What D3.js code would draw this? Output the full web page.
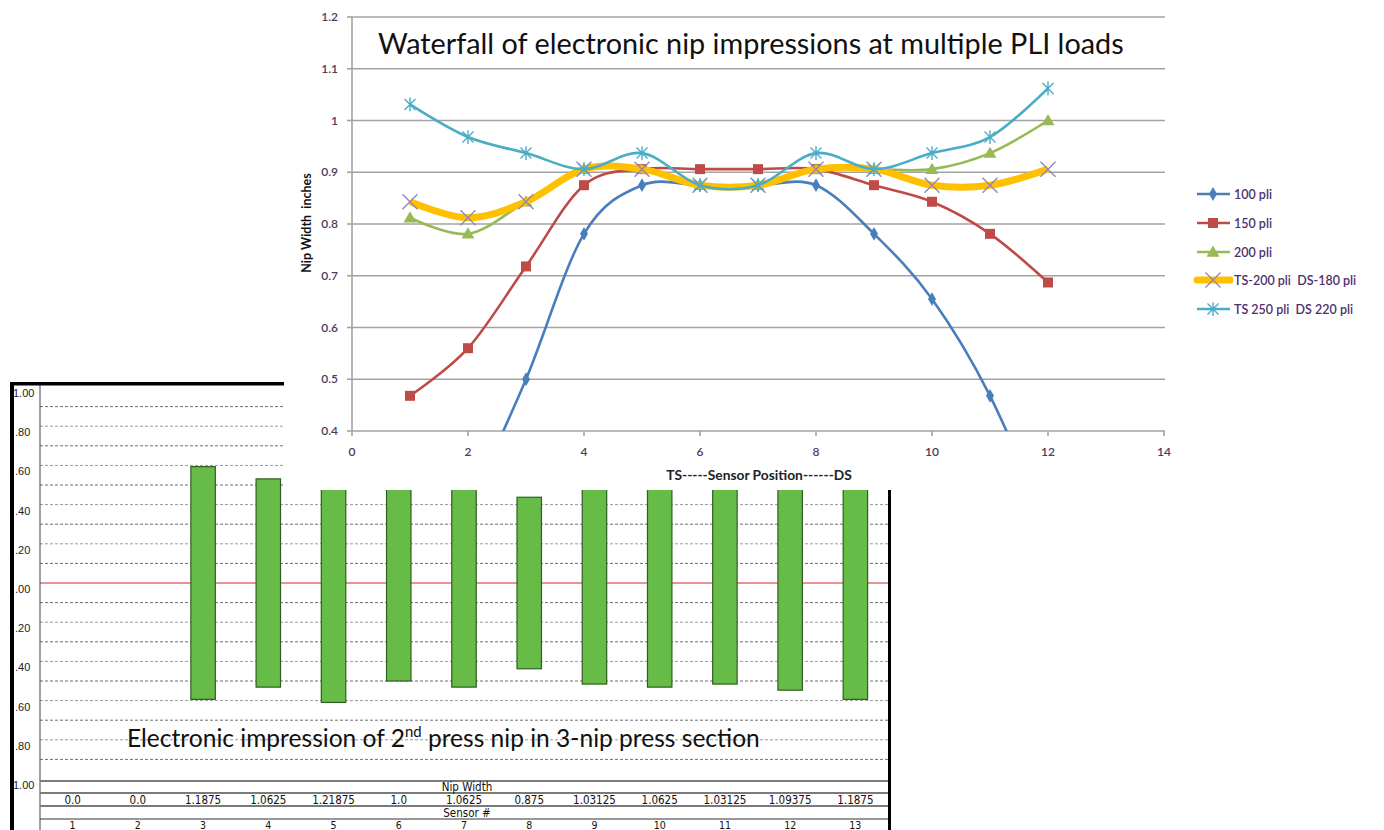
<!DOCTYPE html>
<html><head><meta charset="utf-8">
<script src="https://cdn.jsdelivr.net/npm/d3@7"></script>
<style>
html,body{margin:0;padding:0;background:#fff;}
svg{display:block;}
</style></head>
<body>
<svg id="chart" width="1384" height="830"></svg>
<script>
// ---------- DATA ----------
// Top chart: waterfall of electronic nip impressions
const sensorPositions = [1,2,3,4,5,6,7,8,9,10,11,12];
const pli100 = [0.0, 0.25, 0.5, 0.781, 0.875, 0.875, 0.875, 0.875, 0.781, 0.655, 0.468, 0.21];
const pli150 = [0.468, 0.56, 0.718, 0.875, 0.906, 0.906, 0.906, 0.906, 0.875, 0.843, 0.781, 0.687];
const pli200 = [0.812, 0.781, 0.843, 0.906, 0.906, 0.875, 0.875, 0.906, 0.906, 0.906, 0.937, 1.0];
const ts200ds180 = [0.843, 0.812, 0.843, 0.906, 0.906, 0.875, 0.875, 0.906, 0.906, 0.875, 0.875, 0.906];
const ts250ds220 = [1.031, 0.968, 0.937, 0.906, 0.937, 0.875, 0.875, 0.937, 0.906, 0.937, 0.968, 1.062];
const seriesNames = ["100 pli", "150 pli", "200 pli", "TS-200 pli  DS-180 pli", "TS 250 pli  DS 220 pli"];
const topYTicks = [0.4, 0.5, 0.6, 0.7, 0.8, 0.9, 1.0, 1.1, 1.2];
const topYTickLabels = ["0.4", "0.5", "0.6", "0.7", "0.8", "0.9", "1", "1.1", "1.2"];
const topXTicks = [0, 2, 4, 6, 8, 10, 12, 14];
const topTitle = "Waterfall of electronic nip impressions at multiple PLI loads";
const topXTitle = "TS-----Sensor Position------DS";
const topYTitle = "Nip Width  inches";

// Bottom panel: electronic impression of 2nd press nip
const sensorNumbers = ["1","2","3","4","5","6","7","8","9","10","11","12","13"];
const nipWidths = [0.0, 0.0, 1.1875, 1.0625, 1.21875, 1.0, 1.0625, 0.875, 1.03125, 1.0625, 1.03125, 1.09375, 1.1875];
const nipWidthLabels = ["0.0","0.0","1.1875","1.0625","1.21875","1.0","1.0625","0.875","1.03125","1.0625","1.03125","1.09375","1.1875"];
const bottomTicks = [1.0, 0.8, 0.6, 0.4, 0.2, 0.0, -0.2, -0.4, -0.6, -0.8, -1.0];
const bottomTickLabels = ["1.00", ".80", ".60", ".40", ".20", ".00", ".20", ".40", ".60", ".80", "1.00"];
const bottomGrid = [0.9,0.8,0.7,0.6,0.5,0.4,0.3,0.2,0.1,-0.1,-0.2,-0.3,-0.4,-0.5,-0.6,-0.7,-0.8,-0.9];
const bottomCaption = ["Electronic impression of 2", "nd", " press nip in 3-nip press section"];

// ---------- DRAW ----------
const svg = d3.select("#chart");

// ===== Bottom panel =====
const bot = svg.append("g");
const xB = d3.scaleBand().domain(sensorNumbers).range([40, 888]);
const yB = d3.scaleLinear().domain([-1, 1]).range([779, 387]);

bot.append("rect").attr("x", 11).attr("y", 382).attr("width", 880).attr("height", 448).attr("fill", "#fff");

bot.selectAll("line.bg").data(bottomGrid).enter().append("line")
  .attr("x1", 40).attr("x2", 888)
  .attr("y1", d => yB(d)).attr("y2", d => yB(d))
  .attr("stroke", (d) => (Math.round(Math.abs(d)*10) % 2 === 0) ? "#9a9a9a" : "#6e6e6e")
  .attr("stroke-width", 1).attr("stroke-dasharray", "3,2");

bot.append("line").attr("x1", 40).attr("x2", 890).attr("y1", yB(0)).attr("y2", yB(0))
  .attr("stroke", "#d42a2a").attr("stroke-width", 1.2);

const barW = xB.bandwidth() * 0.375;
bot.selectAll("rect.bar").data(nipWidths.map((v,i)=>({s: sensorNumbers[i], v})).filter(d => d.v > 0))
  .enter().append("rect")
  .attr("x", d => xB(d.s) + xB.bandwidth()/2 - barW/2)
  .attr("width", barW)
  .attr("y", d => yB(d.v/2))
  .attr("height", d => yB(-d.v/2) - yB(d.v/2))
  .attr("fill", "#67bb47").attr("stroke", "#2f5e22").attr("stroke-width", 1.2);

bot.selectAll("text.bt").data(bottomTicks).enter().append("text")
  .attr("x", (d,i) => bottomTickLabels[i].length === 4 ? 13 : 15)
  .attr("y", d => yB(d) + 10)
  .attr("font-family", "Liberation Sans, Arial, sans-serif")
  .attr("font-size", 11).attr("fill", "#222")
  .text((d,i) => bottomTickLabels[i]);

bot.append("line").attr("x1", 40).attr("x2", 40).attr("y1", 384).attr("y2", 830).attr("stroke", "#444").attr("stroke-width", 1);

const tableLines = [781, 793, 806, 819];
bot.selectAll("line.tl").data(tableLines).enter().append("line")
  .attr("x1", 40).attr("x2", 888).attr("y1", d => d).attr("y2", d => d)
  .attr("stroke", (d,i) => i === 3 ? "#333" : "#7a7a7a")
  .attr("stroke-width", (d,i) => i === 3 ? 1 : 2);
const tfont = "Liberation Sans Narrow, DejaVu Sans Condensed, Arial Narrow, sans-serif";
bot.append("text").attr("x", 467).attr("y", 791).attr("text-anchor", "middle")
  .attr("font-family", tfont).attr("font-size", 11.5).attr("fill", "#111").text("Nip Width");
bot.selectAll("text.nw").data(nipWidthLabels).enter().append("text")
  .attr("x", (d,i) => xB(sensorNumbers[i]) + xB.bandwidth()/2).attr("y", 804)
  .attr("text-anchor", "middle").attr("font-family", tfont).attr("font-size", 11.5).attr("fill", "#111")
  .text(d => d);
bot.append("text").attr("x", 467).attr("y", 817).attr("text-anchor", "middle")
  .attr("font-family", tfont).attr("font-size", 11.5).attr("fill", "#111").text("Sensor #");
bot.selectAll("text.sn").data(sensorNumbers).enter().append("text")
  .attr("x", d => xB(d) + xB.bandwidth()/2).attr("y", 829)
  .attr("text-anchor", "middle").attr("font-family", tfont).attr("font-size", 10.5).attr("fill", "#111")
  .text(d => d);

const cap = bot.append("text").attr("x", 127).attr("y", 747)
  .attr("font-family", "Lato, Open Sans, sans-serif").attr("font-size", 23).attr("fill", "#111");
const capA = cap.append("tspan").text(bottomCaption[0]);
const capB = cap.append("tspan").attr("font-size", 14).attr("dy", -9).text(bottomCaption[1]);
const capC = cap.append("tspan").attr("dy", 9).text(bottomCaption[2]);
(function fitCap(){
  const w = cap.node().getComputedTextLength();
  if (w > 0) {
    const k = 633 / w;
    cap.attr("font-size", 23 * k);
    capB.attr("font-size", 14 * k).attr("dy", -9 * k);
    capC.attr("dy", 9 * k);
  }
})();

bot.append("rect").attr("x", 10).attr("y", 382).attr("width", 4).attr("height", 448).attr("fill", "#000");
bot.append("rect").attr("x", 10).attr("y", 382).attr("width", 880).attr("height", 3.5).attr("fill", "#000");
bot.append("rect").attr("x", 888).attr("y", 382).attr("width", 3).attr("height", 448).attr("fill", "#000");

// ===== Top chart (covers part of bottom panel) =====
const topG = svg.append("g");
topG.append("rect").attr("x", 284).attr("y", 0).attr("width", 1100).attr("height", 490).attr("fill", "#fff");

const xT = d3.scaleLinear().domain([0, 14]).range([352, 1164]);
const yT = d3.scaleLinear().domain([0.4, 1.2]).range([431, 17]);

topG.selectAll("line.g").data(topYTicks.filter(d => d > 0.4)).enter().append("line")
  .attr("x1", xT(0)).attr("x2", xT(14)+1).attr("y1", d => yT(d)).attr("y2", d => yT(d))
  .attr("stroke", "#a3a3a3").attr("stroke-width", 1.6);
topG.append("line").attr("x1", xT(0)).attr("x2", xT(0)).attr("y1", yT(1.2)).attr("y2", yT(0.4)).attr("stroke", "#a3a3a3").attr("stroke-width", 1.6);
topG.append("line").attr("x1", xT(0)).attr("x2", xT(14)+1).attr("y1", yT(0.4)).attr("y2", yT(0.4)).attr("stroke", "#a3a3a3").attr("stroke-width", 1.6);
topG.selectAll("line.yt").data(topYTicks).enter().append("line")
  .attr("x1", xT(0)-5).attr("x2", xT(0)).attr("y1", d => yT(d)).attr("y2", d => yT(d))
  .attr("stroke", "#a3a3a3").attr("stroke-width", 1.6);
topG.selectAll("line.xt").data(topXTicks).enter().append("line")
  .attr("x1", d => xT(d)).attr("x2", d => xT(d)).attr("y1", yT(0.4)).attr("y2", yT(0.4)+5)
  .attr("stroke", "#a3a3a3").attr("stroke-width", 1.6);

const lblFont = "Lato, Open Sans, sans-serif";
topG.selectAll("text.yl").data(topYTicks).enter().append("text")
  .attr("x", 338).attr("y", d => yT(d) + 4).attr("text-anchor", "end")
  .attr("font-family", lblFont).attr("font-size", 12).attr("font-weight", 600).attr("fill", "#4a3d5c")
  .text((d,i) => topYTickLabels[i]);
topG.selectAll("text.xl").data(topXTicks).enter().append("text")
  .attr("x", d => xT(d)).attr("y", 456).attr("text-anchor", "middle")
  .attr("font-family", lblFont).attr("font-size", 12).attr("font-weight", 600).attr("fill", "#4a3d5c")
  .text(d => d);

topG.append("text").attr("x", 759).attr("y", 480).attr("text-anchor", "middle")
  .attr("font-family", lblFont).attr("font-size", 13.8).attr("font-weight", 700).attr("fill", "#222")
  .text(topXTitle);
topG.append("text").attr("transform", "translate(311,223) rotate(-90)").attr("text-anchor", "middle")
  .attr("font-family", lblFont).attr("font-size", 12.5).attr("font-weight", 700).attr("fill", "#111")
  .style("white-space", "pre").text(topYTitle);

const title = topG.append("text").attr("x", 378).attr("y", 54)
  .attr("font-family", "Lato, Open Sans, sans-serif").attr("font-size", 28).attr("fill", "#111")
  .text(topTitle);
(function fit(){
  const w = title.node().getComputedTextLength();
  if (w > 0) title.attr("font-size", 28 * 746 / w);
})();

const series = [
  {name: seriesNames[0], vals: pli100, color: "#4a7ebb", width: 2.6, marker: "diamond"},
  {name: seriesNames[1], vals: pli150, color: "#be4b48", width: 2.6, marker: "square"},
  {name: seriesNames[2], vals: pli200, color: "#98b954", width: 2.6, marker: "triangle"},
  {name: seriesNames[3], vals: ts200ds180, color: "#ffc000", width: 7, marker: "x"},
  {name: seriesNames[4], vals: ts250ds220, color: "#4bacc6", width: 2.6, marker: "star"}
];

topG.append("clipPath").attr("id", "plotclip").append("rect")
  .attr("x", xT(0)).attr("y", 0).attr("width", xT(14)-xT(0)).attr("height", yT(0.4));

const line = d3.line().x(d => xT(d[0])).y(d => yT(d[1])).curve(d3.curveCardinal.tension(0));

function markerPath(type, size) {
  const s = size/2;
  if (type === "diamond") return d3.symbol(d3.symbolDiamond, size*size*0.55)();
  if (type === "square") return d3.symbol(d3.symbolSquare, size*size)();
  if (type === "triangle") return d3.symbol(d3.symbolTriangle, size*size*0.6)();
  if (type === "x") return `M${-s},${-s}L${s},${s}M${-s},${s}L${s},${-s}`;
  if (type === "star") return `M${-s},${-s}L${s},${s}M${-s},${s}L${s},${-s}M0,${-s*1.25}L0,${s*1.25}`;
}
function drawMarker(g, type, color, x, y) {
  if (type === "diamond") g.append("path").attr("d", markerPath(type, 10)).attr("transform", `translate(${x},${y})`).attr("fill", color);
  else if (type === "square") g.append("path").attr("d", markerPath(type, 10)).attr("transform", `translate(${x},${y})`).attr("fill", color);
  else if (type === "triangle") g.append("path").attr("d", markerPath(type, 11)).attr("transform", `translate(${x},${y+1})`).attr("fill", color);
  else if (type === "x") g.append("path").attr("d", markerPath(type, 15)).attr("transform", `translate(${x},${y})`).attr("fill", "none").attr("stroke", "#9485b5").attr("stroke-width", 1.4);
  else if (type === "star") g.append("path").attr("d", markerPath(type, 11)).attr("transform", `translate(${x},${y})`).attr("fill", "none").attr("stroke", color).attr("stroke-width", 1.4);
}

const plotG = topG.append("g").attr("clip-path", "url(#plotclip)");
series.forEach(s => {
  const pts = sensorPositions.map((x,i) => [x, s.vals[i]]);
  plotG.append("path").attr("d", line(pts)).attr("fill", "none")
    .attr("stroke", s.color).attr("stroke-width", s.width).attr("stroke-linejoin", "round");
  pts.filter(p => p[1] >= 0.4 && p[1] <= 1.2).forEach(p => drawMarker(plotG, s.marker, s.color, xT(p[0]), yT(p[1])));
});

const legY = [194, 223, 252, 280, 309];
const leg = topG.append("g");
series.forEach((s,i) => {
  const y = legY[i];
  leg.append("line").attr("x1", 1197).attr("x2", 1230).attr("y1", y).attr("y2", y)
    .attr("stroke", s.color).attr("stroke-width", s.marker === "x" ? 7 : 2.6).attr("stroke-linecap", s.marker === "x" ? "round" : "butt");
  drawMarker(leg, s.marker, s.color, 1213, y);
  leg.append("text").attr("x", 1234).attr("y", y + 4.5)
    .attr("font-family", lblFont).attr("font-size", 12.5).attr("font-weight", 600).attr("fill", "#4e2f6e")
    .style("white-space", "pre").text(s.name);
});
</script>
</body></html>
